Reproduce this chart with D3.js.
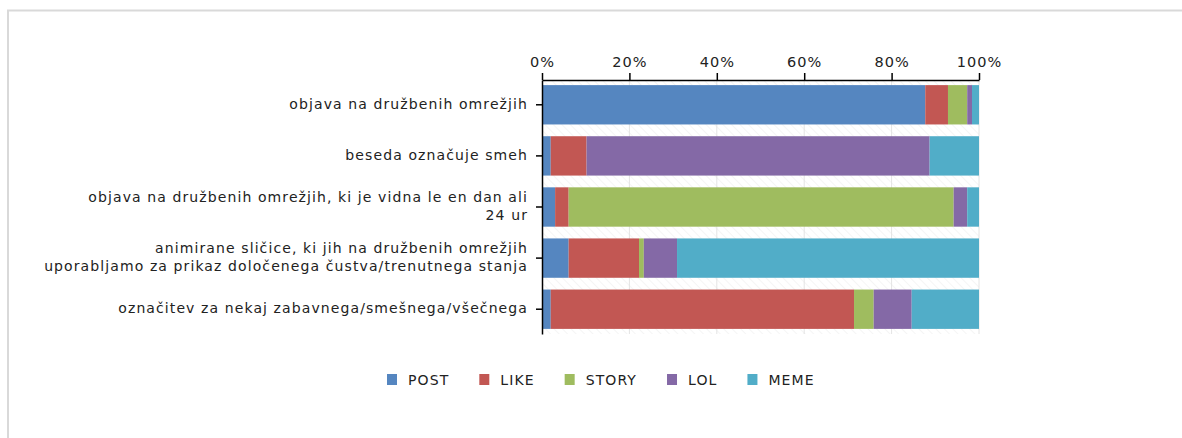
<!DOCTYPE html>
<html>
<head>
<meta charset="utf-8">
<script src="https://cdn.jsdelivr.net/npm/d3@7"></script>
<style>
  body { margin: 0; background: #fff; }
  svg { display: block; font-family: "DejaVu Sans", Verdana, sans-serif; }
</style>
</head>
<body>
<svg id="chart"></svg>
<script>
const categories = [
  "objava na družbenih omrežjih",
  "beseda označuje smeh",
  "objava na družbenih omrežjih, ki je vidna le en dan ali\n24 ur",
  "animirane sličice, ki jih na družbenih omrežjih\nuporabljamo za prikaz določenega čustva/trenutnega stanja",
  "označitev za nekaj zabavnega/smešnega/všečnega"
];
const seriesNames = ["POST", "LIKE", "STORY", "LOL", "MEME"];
const post  = [87.7, 2.0, 3.0, 6.1, 2.0];
const like  = [5.2, 8.2, 3.1, 16.1, 69.4];
const story = [4.4, 0.0, 88.1, 1.1, 4.5];
const lol   = [1.1, 78.5, 3.1, 7.6, 8.7];
const meme  = [1.6, 11.3, 2.7, 69.1, 15.4];
const xTicks = [0, 20, 40, 60, 80, 100];

function drawChart(svgSelector, width, height) {
  const svg = d3.select(svgSelector)
    .attr("width", width)
    .attr("height", height);

  // outer frame (only top and left show)
  svg.append("path")
    .attr("d", `M8,${height} V10.5 H${width}`)
    .attr("fill", "none")
    .attr("stroke", "#d9d9d9")
    .attr("stroke-width", 2);

  const margin = { top: 80, left: 542, right: 203, bottom: 104 };
  const w = width - margin.left - margin.right;
  const h = height - margin.top - margin.bottom;

  const defs = svg.append("defs");
  const pat = defs.append("pattern")
    .attr("id", "hatch")
    .attr("patternUnits", "userSpaceOnUse")
    .attr("width", 6).attr("height", 6)
    .attr("patternTransform", "rotate(-45)");
  pat.append("line")
    .attr("x1", 0).attr("y1", 0).attr("x2", 0).attr("y2", 6)
    .attr("stroke", "#efefef").attr("stroke-width", 1.2);

  const g = svg.append("g")
    .attr("transform", `translate(${margin.left},${margin.top})`);

  const x = d3.scaleLinear().domain([0, 100]).range([0, w]);
  const y = d3.scaleBand().domain(categories).range([0, h]).paddingInner(0.23).paddingOuter(0.1);

  const color = d3.scaleOrdinal()
    .domain(seriesNames)
    .range(["#5586c0", "#c25753", "#9fbc5f", "#8469a6", "#51adc8"]);

  // plot background
  g.append("rect").attr("width", w).attr("height", h).attr("fill", "url(#hatch)");

  // gridlines
  g.selectAll(".grid").data(xTicks.slice(1)).join("line")
    .attr("x1", d => x(d)).attr("x2", d => x(d))
    .attr("y1", 0).attr("y2", h)
    .attr("stroke", "#e4e4e4");

  const table = categories.map((c, i) => ({
    cat: c, POST: post[i], LIKE: like[i], STORY: story[i], LOL: lol[i], MEME: meme[i]
  }));
  const stacked = d3.stack().keys(seriesNames)(table);

  g.selectAll(".series").data(stacked).join("g")
    .attr("fill", d => color(d.key))
    .selectAll("rect").data(d => d).join("rect")
    .attr("x", d => x(d[0]))
    .attr("y", d => y(d.data.cat))
    .attr("width", d => x(d[1]) - x(d[0]))
    .attr("height", y.bandwidth());

  // top axis
  const xAxis = g.append("g")
    .call(d3.axisTop(x).tickValues(xTicks).tickFormat(d => d + "%").tickSize(7).tickSizeOuter(0));
  xAxis.select(".domain").attr("stroke", "#000").attr("stroke-width", 1.5);
  xAxis.selectAll(".tick line").attr("stroke", "#000").attr("stroke-width", 1.5);
  xAxis.selectAll("text")
    .attr("font-size", 14.5).attr("fill", "#222")
    .attr("letter-spacing", "1px")
    .attr("font-family", "DejaVu Sans, Verdana, sans-serif")
    .attr("y", -12)
    .attr("dy", "-0.1em");

  // left axis
  const yAxis = g.append("g")
    .call(d3.axisLeft(y).tickSize(6).tickSizeOuter(0).tickFormat(""));
  yAxis.select(".domain").attr("stroke", "#000").attr("stroke-width", 1.5);
  yAxis.selectAll(".tick line").attr("stroke", "#000").attr("stroke-width", 1.5);

  const lineH = 18;
  categories.forEach(c => {
    const lines = c.split("\n");
    const cy = y(c) + y.bandwidth() / 2;
    const t = g.append("text")
      .attr("text-anchor", "end")
      .attr("font-size", 14)
      .attr("letter-spacing", "1.1px")
      .attr("fill", "#222");
    lines.forEach((ln, j) => {
      t.append("tspan")
        .attr("x", -14)
        .attr("y", cy + (j - (lines.length - 1) / 2) * lineH - 1)
        .attr("dy", "0.35em")
        .text(ln);
    });
  });

  // legend
  let lx = 387;
  const ly = 380;
  seriesNames.forEach(s => {
    svg.append("rect")
      .attr("x", lx).attr("y", ly - 6)
      .attr("width", 10).attr("height", 11)
      .attr("fill", color(s));
    const txt = svg.append("text")
      .attr("x", lx + 21).attr("y", ly)
      .attr("dy", "0.35em")
      .attr("font-size", 14)
      .attr("letter-spacing", "1.1px")
      .attr("fill", "#222")
      .text(s);
    lx += 21 + txt.node().getComputedTextLength() + 30;
  });
}

drawChart("#chart", 1182, 438);
</script>
</body>
</html>
